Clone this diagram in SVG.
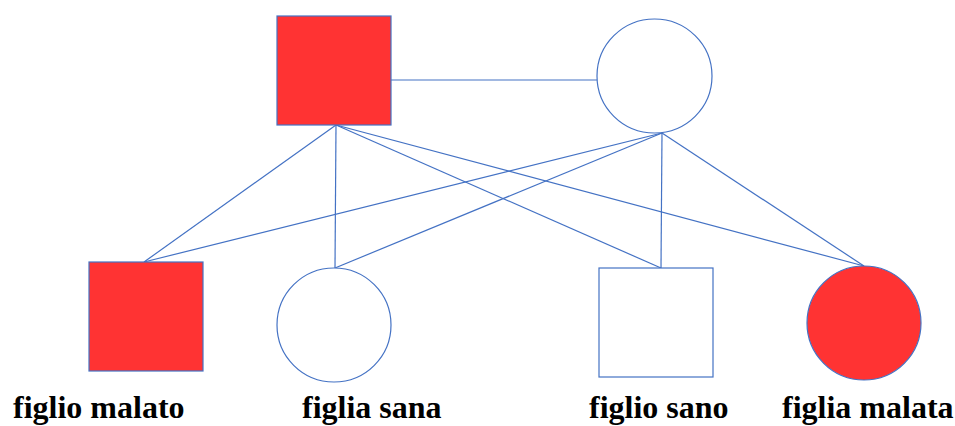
<svg xmlns="http://www.w3.org/2000/svg" width="955" height="426" viewBox="0 0 955 426">
<style>
.s{stroke:#4472c4;stroke-width:1.2;}
.red{fill:#ff3333;}
.w{fill:#ffffff;}
.l{fill:none;stroke:#4472c4;stroke-width:1.2;}
.t{font-family:"Times New Roman","Liberation Serif","DejaVu Serif",serif;font-weight:bold;font-size:32px;fill:#000;}
</style>
<rect width="955" height="426" fill="#ffffff"/>
<g id="connectors">
<line class="l" x1="391" y1="80" x2="597" y2="80"/>
<line class="l" x1="336" y1="125" x2="144" y2="262"/>
<line class="l" x1="336" y1="125" x2="335" y2="268"/>
<line class="l" x1="336" y1="125" x2="661" y2="268"/>
<line class="l" x1="336" y1="125" x2="864" y2="266"/>
<line class="l" x1="662" y1="133" x2="144" y2="262"/>
<line class="l" x1="662" y1="133" x2="335" y2="268"/>
<line class="l" x1="662" y1="133" x2="661" y2="268"/>
<line class="l" x1="662" y1="133" x2="864" y2="266"/>
</g>
<g id="father"><rect class="s red" x="277" y="16" width="114" height="109"/></g>
<g id="mother"><ellipse class="s w" cx="654.5" cy="76" rx="57.5" ry="57"/></g>
<g id="figlio-malato">
<rect class="s red" x="89" y="262" width="114" height="109"/>
<text class="t" x="13" y="418">figlio malato</text>
</g>
<g id="figlia-sana">
<ellipse class="s w" cx="334" cy="325" rx="57" ry="57"/>
<text class="t" x="302" y="418">figlia sana</text>
</g>
<g id="figlio-sano">
<rect class="s w" x="599" y="268" width="114" height="109"/>
<text class="t" x="589" y="418">figlio sano</text>
</g>
<g id="figlia-malata">
<ellipse class="s red" cx="864" cy="323" rx="57" ry="57"/>
<text class="t" x="782" y="418">figlia malata</text>
</g>
</svg>
